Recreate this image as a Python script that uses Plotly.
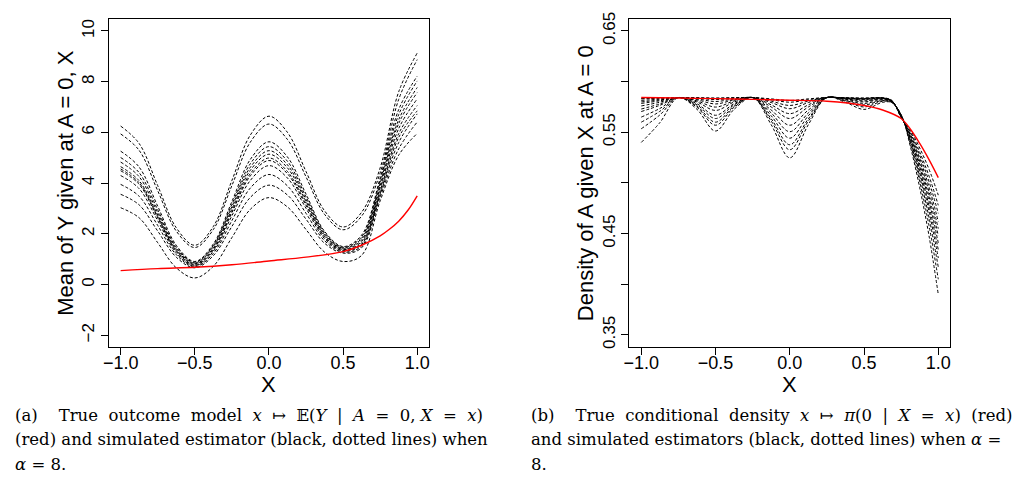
import plotly.graph_objects as go

W, H = 1019, 499

# ---------------- Panel (a): outcome model ----------------
x_grid_a = [-1, -0.875, -0.75, -0.625, -0.5, -0.375, -0.25, -0.125, 0,
            0.125, 0.25, 0.375, 0.5, 0.625, 0.75, 0.875, 1]

est_a = [
    [6.25, 5.56, 3.90, 2.24, 1.55, 2.29, 4.10, 5.90, 6.64, 6.00, 4.46, 2.91, 2.27, 2.85, 4.60, 7.60, 9.13],
    [5.94, 5.29, 3.70, 2.11, 1.46, 2.17, 3.90, 5.62, 6.33, 5.72, 4.25, 2.77, 2.16, 2.70, 4.40, 7.30, 8.87],
    [5.26, 4.63, 3.09, 1.55, 0.91, 1.60, 3.27, 4.94, 5.63, 5.03, 3.57, 2.10, 1.50, 1.95, 4.20, 6.90, 8.22],
    [5.01, 4.41, 2.95, 1.48, 0.88, 1.55, 3.16, 4.77, 5.44, 4.86, 3.46, 2.05, 1.47, 1.88, 4.10, 6.70, 8.03],
    [4.83, 4.25, 2.84, 1.43, 0.85, 1.50, 3.07, 4.63, 5.28, 4.72, 3.36, 2.00, 1.44, 1.82, 4.00, 6.50, 7.77],
    [4.65, 4.09, 2.74, 1.38, 0.82, 1.45, 2.98, 4.51, 5.14, 4.60, 3.28, 1.96, 1.41, 1.76, 3.90, 6.35, 7.57],
    [4.56, 4.01, 2.68, 1.34, 0.79, 1.40, 2.89, 4.38, 4.99, 4.46, 3.19, 1.91, 1.38, 1.70, 3.80, 6.15, 7.32],
    [4.49, 3.95, 2.63, 1.31, 0.76, 1.36, 2.83, 4.29, 4.89, 4.37, 3.12, 1.87, 1.35, 1.64, 3.70, 5.95, 7.06],
    [4.30, 3.78, 2.52, 1.25, 0.73, 1.31, 2.71, 4.11, 4.69, 4.20, 3.01, 1.81, 1.32, 1.58, 3.60, 5.80, 6.85],
    [3.95, 3.48, 2.33, 1.18, 0.70, 1.23, 2.52, 3.81, 4.34, 3.89, 2.81, 1.73, 1.28, 1.52, 3.55, 5.60, 6.73],
    [3.56, 3.14, 2.11, 1.08, 0.66, 1.14, 2.29, 3.44, 3.92, 3.53, 2.58, 1.63, 1.24, 1.45, 3.45, 5.35, 6.41],
    [3.03, 2.63, 1.65, 0.66, 0.26, 0.72, 1.85, 2.97, 3.43, 3.06, 2.17, 1.28, 0.91, 1.15, 3.30, 5.10, 5.96],
]

true_x_a = [-1, -0.75, -0.5, -0.25, 0, 0.25, 0.5, 0.625, 0.75, 0.8125, 0.875, 0.9375, 1]
true_y_a = [0.55, 0.63, 0.68, 0.78, 0.93, 1.08, 1.30, 1.55, 1.92, 2.18, 2.50, 2.93, 3.50]

# ---------------- Panel (b): conditional density ----------------
x_grid_b = [-1, -0.875, -0.75, -0.625, -0.5, -0.375, -0.25, -0.125, 0,
            0.125, 0.25, 0.375, 0.5, 0.625, 0.6875, 0.75, 0.8125, 0.875, 0.9375, 1]

est_b = [
    [0.5835, 0.5839, 0.5843, 0.5841, 0.5838, 0.5841, 0.5843, 0.5830, 0.5814, 0.5830, 0.5843, 0.5841, 0.5838, 0.5841, 0.5815, 0.5645, 0.5523, 0.5345, 0.5136, 0.488],
    [0.5830, 0.5836, 0.5843, 0.5841, 0.5836, 0.5841, 0.5843, 0.5822, 0.5797, 0.5822, 0.5843, 0.5840, 0.5836, 0.5840, 0.5813, 0.5648, 0.5506, 0.5305, 0.5069, 0.478],
    [0.5815, 0.5827, 0.5843, 0.5836, 0.5823, 0.5836, 0.5843, 0.5808, 0.5765, 0.5808, 0.5843, 0.5839, 0.5834, 0.5839, 0.5811, 0.5650, 0.5493, 0.5273, 0.5015, 0.470],
    [0.5800, 0.5819, 0.5843, 0.5829, 0.5804, 0.5829, 0.5843, 0.5794, 0.5733, 0.5794, 0.5843, 0.5838, 0.5830, 0.5838, 0.5809, 0.5652, 0.5479, 0.5241, 0.4962, 0.462],
    [0.5785, 0.5811, 0.5843, 0.5821, 0.5780, 0.5821, 0.5843, 0.5771, 0.5684, 0.5771, 0.5843, 0.5836, 0.5825, 0.5836, 0.5807, 0.5655, 0.5467, 0.5213, 0.4915, 0.455],
    [0.5760, 0.5797, 0.5843, 0.5810, 0.5749, 0.5810, 0.5843, 0.5750, 0.5636, 0.5750, 0.5843, 0.5834, 0.5820, 0.5834, 0.5805, 0.5658, 0.5455, 0.5185, 0.4868, 0.448],
    [0.5730, 0.5780, 0.5843, 0.5799, 0.5716, 0.5799, 0.5843, 0.5720, 0.5570, 0.5720, 0.5843, 0.5830, 0.5810, 0.5830, 0.5803, 0.5660, 0.5443, 0.5157, 0.4821, 0.441],
    [0.5705, 0.5766, 0.5843, 0.5782, 0.5668, 0.5782, 0.5843, 0.5691, 0.5506, 0.5691, 0.5843, 0.5826, 0.5800, 0.5826, 0.5801, 0.5662, 0.5431, 0.5129, 0.4774, 0.434],
    [0.5650, 0.5735, 0.5843, 0.5771, 0.5636, 0.5771, 0.5843, 0.5663, 0.5442, 0.5663, 0.5843, 0.5820, 0.5785, 0.5820, 0.5799, 0.5665, 0.5418, 0.5097, 0.4720, 0.426],
    [0.5600, 0.5707, 0.5843, 0.5758, 0.5600, 0.5758, 0.5843, 0.5633, 0.5377, 0.5633, 0.5843, 0.5814, 0.5770, 0.5814, 0.5797, 0.5668, 0.5403, 0.5061, 0.4660, 0.417],
    [0.5535, 0.5671, 0.5843, 0.5747, 0.5570, 0.5747, 0.5843, 0.5611, 0.5328, 0.5611, 0.5843, 0.5806, 0.5750, 0.5806, 0.5795, 0.5670, 0.5382, 0.5013, 0.4580, 0.405],
    [0.5400, 0.5595, 0.5843, 0.5727, 0.5513, 0.5727, 0.5843, 0.5575, 0.5248, 0.5575, 0.5843, 0.5796, 0.5726, 0.5796, 0.5793, 0.5675, 0.5357, 0.4953, 0.4479, 0.390],
]

true_x_b = [-1, -0.75, -0.5, -0.25, 0, 0.25, 0.5, 0.625, 0.75, 0.8125, 0.875, 0.9375, 1]
true_y_b = [0.5843, 0.5838, 0.5832, 0.5825, 0.5817, 0.5806, 0.5765, 0.5720, 0.5636, 0.5530, 0.5390, 0.5230, 0.5053]

# ---------------- Axis ticks ----------------
x_ticks = [-1, -0.5, 0, 0.5, 1]
x_tick_text = ["\u22121.0", "\u22120.5", "0.0", "0.5", "1.0"]
ya_ticks = [-2, 0, 2, 4, 6, 8, 10]
ya_tick_text = ["\u22122", "0", "2", "4", "6", "8", "10"]
yb_ticks = [0.35, 0.40, 0.45, 0.50, 0.55, 0.60, 0.65]
yb_tick_text = ["0.35", "", "0.45", "", "0.55", "", "0.65"]

ylabel_a = "Mean of Y given at A = 0, X"
ylabel_b = "Density of A given X at A = 0"
xlabel = "X"

S = "\u00a0"
cap_a = [
    f"(a){S}{S}{S} True{S} outcome{S} model{S} <i>x</i>{S} \u21a6{S} \U0001D53C(<i>Y</i>{S} |{S} <i>A</i>{S} ={S} 0, <i>X</i>{S} ={S} <i>x</i>)",
    "(red) and simulated estimator (black, dotted lines) when",
    "<i>\u03b1</i> = 8.",
]
cap_b = [
    f"(b){S}{S}{S} True{S} conditional{S} density{S} <i>x</i>{S} \u21a6{S} <i>\u03c0</i>(0{S} |{S} <i>X</i>{S} ={S} <i>x</i>){S} (red)",
    "and simulated estimators (black, dotted lines) when <i>\u03b1</i> =",
    "8.",
]

# ---------------- Figure ----------------
def px(x):
    return x / W


def py(y):
    return 1 - y / H


fig = go.Figure()

dash_style = dict(color="black", width=1, dash="3px,2px")
for ys in est_a:
    fig.add_trace(go.Scatter(x=x_grid_a, y=ys, mode="lines", line=dash_style,
                             line_shape="spline", xaxis="x", yaxis="y",
                             showlegend=False, hoverinfo="skip"))
fig.add_trace(go.Scatter(x=true_x_a, y=true_y_a, mode="lines",
                         line=dict(color="red", width=1.4), line_shape="spline",
                         xaxis="x", yaxis="y", showlegend=False))
for ys in est_b:
    fig.add_trace(go.Scatter(x=x_grid_b, y=ys, mode="lines", line=dash_style,
                             line_shape="spline", xaxis="x2", yaxis="y2",
                             showlegend=False, hoverinfo="skip"))
fig.add_trace(go.Scatter(x=true_x_b, y=true_y_b, mode="lines",
                         line=dict(color="red", width=1.4), line_shape="spline",
                         xaxis="x2", yaxis="y2", showlegend=False))

axis_common = dict(showline=True, mirror=True, linecolor="black", linewidth=1,
                   ticks="outside", ticklen=7, tickcolor="black", tickwidth=1,
                   showgrid=False, zeroline=False)
tick_font_x = dict(family="Liberation Sans, Arial, sans-serif", size=18, color="black")
tick_font_y = dict(family="Liberation Sans, Arial, sans-serif", size=17, color="black")

ydom = [py(346), py(12)]
fig.update_layout(
    width=W, height=H,
    margin=dict(l=0, r=0, t=0, b=0),
    paper_bgcolor="white", plot_bgcolor="white",
    xaxis=dict(domain=[px(103.5), px(426)], range=[-1.08, 1.08], anchor="y",
               tickvals=x_ticks, ticktext=x_tick_text, tickfont=tick_font_x,
               ticklabelstandoff=-8, **axis_common),
    yaxis=dict(domain=ydom, range=[-2.48, 10.48], anchor="x",
               tickvals=ya_ticks, ticktext=ya_tick_text, tickangle=-90,
               tickfont=tick_font_y, **axis_common),
    xaxis2=dict(domain=[px(627.7), px(950.7)], range=[-1.08, 1.08], anchor="y2",
                tickvals=x_ticks, ticktext=x_tick_text, tickfont=tick_font_x,
                ticklabelstandoff=-8, **axis_common),
    yaxis2=dict(domain=ydom, range=[0.3377, 0.6620], anchor="x2",
                tickvals=yb_ticks, ticktext=yb_tick_text, tickangle=-90,
                tickfont=tick_font_y, **axis_common),
)

title_font = dict(family="Liberation Sans, Arial, sans-serif", size=22, color="black")
ann = []
ann.append(dict(x=px(60), y=py(179), text=ylabel_a, textangle=-90, showarrow=False,
                xref="paper", yref="paper", xanchor="center", yanchor="middle", font=title_font))
ann.append(dict(x=px(583), y=py(179), text=ylabel_b, textangle=-90, showarrow=False,
                xref="paper", yref="paper", xanchor="center", yanchor="middle", font=title_font))
ann.append(dict(x=px(264.5), y=py(384), text=xlabel, showarrow=False,
                xref="paper", yref="paper", xanchor="center", yanchor="middle", font=title_font))
ann.append(dict(x=px(788.8), y=py(384), text=xlabel, showarrow=False,
                xref="paper", yref="paper", xanchor="center", yanchor="middle", font=title_font))

cap_font = dict(family="DejaVu Serif, serif", size=16.5, color="black")
cap_y = [415.5, 440, 464.5]
for i, t in enumerate(cap_a):
    ann.append(dict(x=px(7), y=py(cap_y[i]), text=t, showarrow=False, xref="paper", yref="paper",
                    xanchor="left", yanchor="middle", font=cap_font))
for i, t in enumerate(cap_b):
    ann.append(dict(x=px(527), y=py(cap_y[i]), text=t, showarrow=False, xref="paper", yref="paper",
                    xanchor="left", yanchor="middle", font=cap_font))
fig.update_layout(annotations=ann)

fig.write_html("out.html")
